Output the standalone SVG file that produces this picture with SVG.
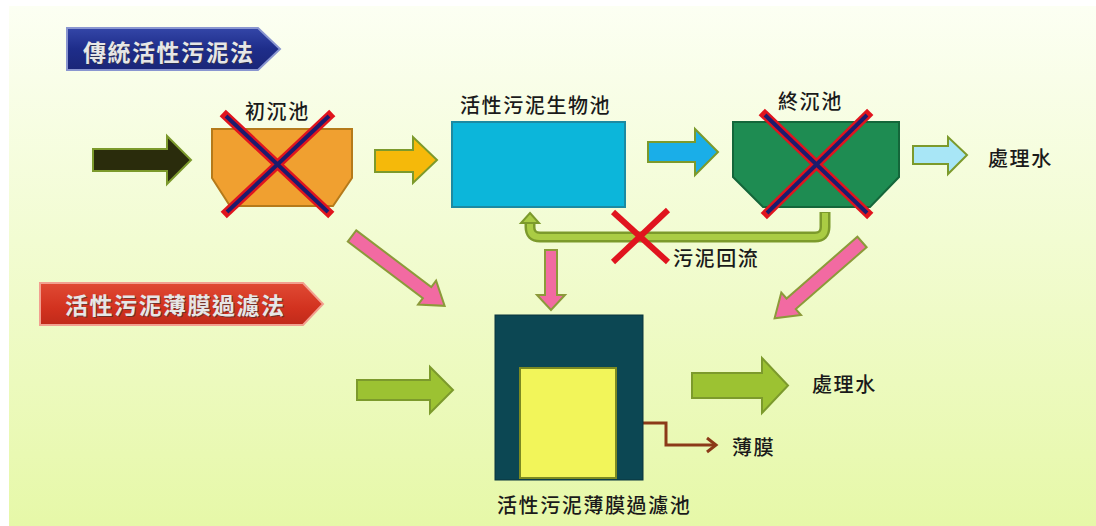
<svg xmlns="http://www.w3.org/2000/svg" width="1096" height="526" viewBox="0 0 1096 526">
  <defs>
    <linearGradient id="bg" x1="0" y1="0" x2="0" y2="1">
      <stop offset="0" stop-color="#FCFFF3"/>
      <stop offset="0.45" stop-color="#F2FCD2"/>
      <stop offset="1" stop-color="#E6F8A8"/>
    </linearGradient>
    <linearGradient id="blueBanner" x1="0" y1="0" x2="0" y2="1">
      <stop offset="0" stop-color="#3446A8"/>
      <stop offset="0.5" stop-color="#1E2D8A"/>
      <stop offset="1" stop-color="#1A2678"/>
    </linearGradient>
    <linearGradient id="redBanner" x1="0" y1="0" x2="0" y2="1">
      <stop offset="0" stop-color="#E04A34"/>
      <stop offset="0.6" stop-color="#D2321F"/>
      <stop offset="1" stop-color="#C02A1A"/>
    </linearGradient>
    <style>
      .lbl { font-family: "Noto Sans CJK TC", "Noto Sans CJK SC", sans-serif; font-size: 20px; font-weight: 500; letter-spacing: 1.6px; fill: #1A1A1A; }
      .title { font-family: "Noto Sans CJK TC", "Noto Sans CJK SC", sans-serif; font-size: 23px; font-weight: bold; letter-spacing: 1.5px; fill: #E6E6E6; }
      .titleShadow { font-family: "Noto Sans CJK TC", "Noto Sans CJK SC", sans-serif; font-size: 23px; font-weight: bold; letter-spacing: 1.5px; fill: #333333; opacity: 0.6; }
      .arrow { stroke: #7C9A2C; stroke-width: 2; stroke-linejoin: miter; }
      .pink { fill: #F26AA2; stroke: #8C9A3A; stroke-width: 2; }
      .crossOuter { stroke: #E0141E; stroke-width: 9; stroke-linecap: square; }
      .crossInner { stroke: #1C1C6E; stroke-width: 4; stroke-linecap: butt; }
    </style>
  </defs>

  <!-- background -->
  <rect x="0" y="0" width="1096" height="526" fill="#FFFFFF"/>
  <rect x="9" y="6" width="1087" height="520" fill="url(#bg)"/>

  <!-- title banners -->
  <g id="title-conventional">
    <polygon points="67,28 258,28 280,49 258,70 67,70" fill="url(#blueBanner)" stroke="#8A96D0" stroke-width="2"/>
    <text class="titleShadow" x="84" y="62">傳統活性污泥法</text>
    <text class="title" x="83" y="61">傳統活性污泥法</text>
  </g>
  <g id="title-mbr">
    <polygon points="40,283 303,283 323,304 303,325 40,325" fill="url(#redBanner)" stroke="#F2A090" stroke-width="2"/>
    <text class="titleShadow" x="66" y="315">活性污泥薄膜過濾法</text>
    <text class="title" x="65" y="314">活性污泥薄膜過濾法</text>
  </g>

  <!-- connectors -->
  <g id="connectors">
    <polygon class="arrow" points="93,149 167,149 167,136 191,160 167,184 167,171 93,171" fill="#2A2C0C"/>
    <polygon class="arrow" points="375,150 413,150 413,137 437,160 413,183 413,172 375,172" fill="#F5B90A"/>
    <polygon class="arrow" points="648,142 695,142 695,129 718,152 695,175 695,162 648,162" fill="#1AAEE8"/>
    <polygon class="arrow" points="913,146 948,146 948,137 967,155 948,174 948,164 913,164" fill="#A8E6F6"/>
    <polygon class="arrow" points="357,380 430,380 430,367 453,390 430,413 430,400 357,400" fill="#9CC232"/>
    <polygon class="arrow" points="692,373 762,373 762,358 788,385.5 762,413 762,398 692,398" fill="#9CC232"/>

    <!-- sludge return -->
    <g id="sludge-return">
      <path d="M 825 212 V 227 Q 825 237 815 237 H 540 Q 530 237 530 227 V 222" fill="none" stroke="#7C9A2C" stroke-width="11"/>
      <path d="M 825 213 V 227 Q 825 237 815 237 H 540 Q 530 237 530 227 V 221" fill="none" stroke="#AACC44" stroke-width="6"/>
      <polygon points="530,213 539,223 521,223" fill="#AACC44" stroke="#7C9A2C" stroke-width="2"/>
      <line x1="613" y1="212" x2="668" y2="262" stroke="#E0141E" stroke-width="6"/>
      <line x1="668" y1="210" x2="613" y2="262" stroke="#E0141E" stroke-width="6"/>
    </g>

    <!-- pink transfer arrows -->
    <polygon class="pink" transform="translate(352,236) rotate(37)" points="0,-7 94,-7 94,-15 116,0 94,15 94,7 0,7"/>
    <polygon class="pink" transform="translate(551,250) rotate(90)" points="0,-6 45,-6 45,-14 60,0 45,14 45,6 0,6"/>
    <polygon class="pink" transform="translate(862,242) rotate(138.9)" points="0,-7 94,-7 94,-15 116,0 94,15 94,7 0,7"/>

    <!-- membrane outlet -->
    <polyline points="616,423 666,423 666,445 715,445" fill="none" stroke="#8B3A18" stroke-width="3"/>
    <polyline points="707,438 716,445 707,452" fill="none" stroke="#8B3A18" stroke-width="3"/>
  </g>

  <!-- nodes -->
  <g id="primary-clarifier">
    <polygon points="212,129 352,129 352,178 333,206 230,206 212,178" fill="#F0A030" stroke="#B57A1A" stroke-width="2"/>
    <line class="crossOuter" x1="226" y1="116" x2="328" y2="212"/>
    <line class="crossOuter" x1="329" y1="116" x2="227" y2="212"/>
    <line class="crossInner" x1="226" y1="116" x2="328" y2="212"/>
    <line class="crossInner" x1="329" y1="116" x2="227" y2="212"/>
    <text class="lbl" x="245" y="119">初沉池</text>
  </g>

  <g id="aeration-tank">
    <rect x="452" y="122" width="173" height="85" fill="#0CB6DA" stroke="#1C8AA2" stroke-width="2"/>
    <text class="lbl" x="460" y="113">活性污泥生物池</text>
  </g>

  <g id="final-clarifier">
    <polygon points="733,122 899,122 899,177 870,207 763,207 733,177" fill="#1E8C52" stroke="#14663A" stroke-width="2"/>
    <line class="crossOuter" x1="765" y1="115" x2="867" y2="213"/>
    <line class="crossOuter" x1="867" y1="115" x2="767" y2="213"/>
    <line class="crossInner" x1="765" y1="115" x2="867" y2="213"/>
    <line class="crossInner" x1="867" y1="115" x2="767" y2="213"/>
    <text class="lbl" x="778" y="109">終沉池</text>
  </g>

  <g id="treated-water-top">
    <text class="lbl" x="988" y="166">處理水</text>
  </g>

  <g id="sludge-return-label">
    <text class="lbl" x="673" y="266">污泥回流</text>
  </g>

  <g id="mbr-tank">
    <rect x="495" y="315" width="148" height="165" fill="#0C4753" stroke="#08343C" stroke-width="1"/>
    <rect x="520" y="368" width="96" height="110" fill="#F2F55A" stroke="#7C8A22" stroke-width="2"/>
    <text class="lbl" x="497" y="513">活性污泥薄膜過濾池</text>
  </g>

  <g id="membrane-label">
    <text class="lbl" x="732" y="455">薄膜</text>
  </g>

  <g id="treated-water-bottom">
    <text class="lbl" x="812" y="392">處理水</text>
  </g>
</svg>
